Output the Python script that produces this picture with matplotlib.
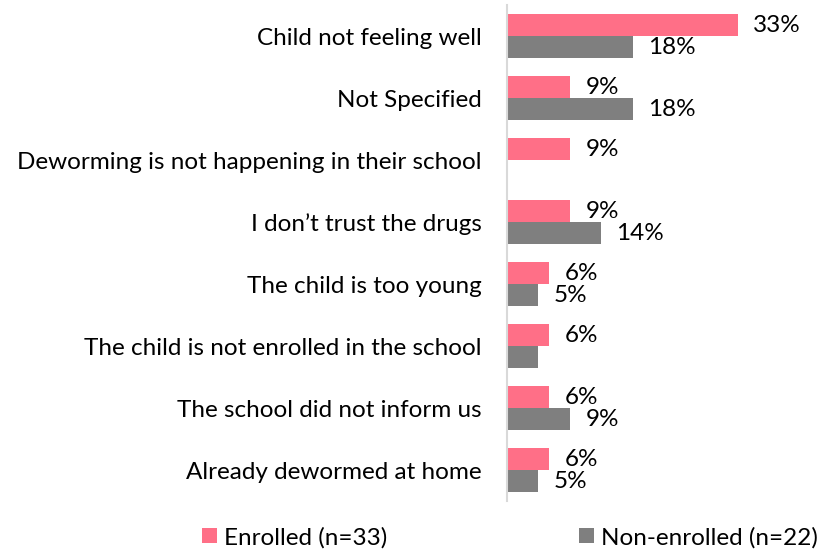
import numpy as np
import matplotlib.pyplot as plt

plt.rcParams['font.family'] = ['Lato', 'DejaVu Sans']

categories = [
    'Child not feeling well',
    'Not Specified',
    'Deworming is not happening in their school',
    'I don\u2019t trust the drugs',
    'The child is too young',
    'The child is not enrolled in the school',
    'The school did not inform us',
    'Already dewormed at home',
]
enrolled = [33.3, 9.1, 9.1, 9.1, 6.1, 6.1, 6.1, 6.1]
non_enrolled = [18.2, 18.2, 0, 13.6, 4.5, 4.5, 9.1, 4.5]
enrolled_labels = ['33%', '9%', '9%', '9%', '6%', '6%', '6%', '6%']
non_enrolled_labels = ['18%', '18%', '', '14%', '5%', '', '9%', '5%']

pink = '#FF6F87'
grey = '#7F7F7F'

fig = plt.figure(figsize=(8.19, 5.5), dpi=100)
ax = fig.add_axes([0.619, 0.089, 0.381, 0.901])

y = np.arange(len(categories))
h = 0.355
b1 = ax.barh(y - h / 2, enrolled, h, color=pink, label='Enrolled (n=33)')
b2 = ax.barh(y + h / 2, non_enrolled, h, color=grey, label='Non-enrolled (n=22)')
ax.bar_label(b1, labels=enrolled_labels, padding=11, fontsize=17.5)
ax.bar_label(b2, labels=non_enrolled_labels, padding=11, fontsize=17.5)

ax.set_ylim(len(categories) - 0.5, -0.5)
ax.set_xlim(0, 45)
ax.set_yticks(y)
ax.set_yticklabels(categories, fontsize=17.5)
ax.tick_params(axis='y', length=0, pad=18)
ax.set_xticks([])
for s in ['top', 'right', 'bottom']:
    ax.spines[s].set_visible(False)
ax.spines['left'].set_color('#D9D9D9')
ax.spines['left'].set_linewidth(1.5)

fig.legend(loc='center', bbox_to_anchor=(0.623, 0.023), ncol=2, frameon=False,
           fontsize=17.5, handlelength=0.6, handleheight=0.6, handletextpad=0.3,
           columnspacing=7.9)

fig.savefig('out.png', dpi=100)
